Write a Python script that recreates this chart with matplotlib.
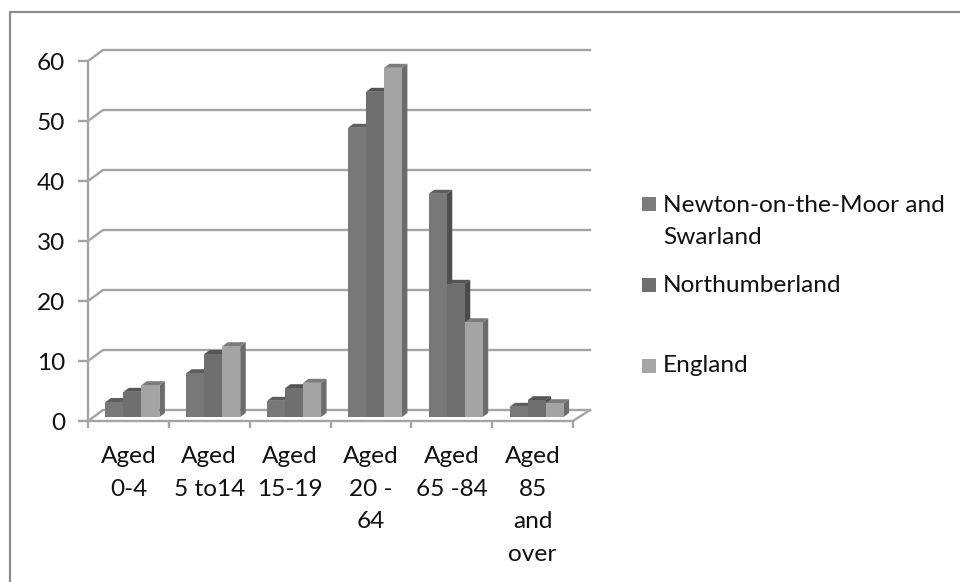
import matplotlib
matplotlib.use('Agg')
from matplotlib import pyplot as plt
from matplotlib.patches import Polygon, Rectangle
from matplotlib.lines import Line2D
from matplotlib.transforms import Affine2D

categories = ['Aged\n0-4', 'Aged\n5 to14', 'Aged\n15-19', 'Aged\n20 -\n64', 'Aged\n65 -84', 'Aged\n85\nand\nover']
newton = [2.5, 7.3, 2.7, 48.2, 37.2, 1.7]
northumberland = [4.2, 10.5, 4.8, 54.2, 22.2, 2.8]
england = [5.3, 11.8, 5.7, 58.2, 15.8, 2.3]
y_ticks = [0, 10, 20, 30, 40, 50, 60]

W, H = 960, 582
GRID = '#a4a4a4'
plt.rcParams['font.family'] = ['Lato', 'DejaVu Sans']
FS = 17.6

fig = plt.figure(figsize=(W / 100, H / 100), dpi=100, facecolor='white')
# everything outside the plot is placed in image pixels
px = Affine2D().scale(1 / W, -1 / H).translate(0, 1) + fig.transFigure

# outer frame, only top and left are visible in the reference
fig.add_artist(Line2D([10, 10, 960], [582, 12, 12], transform=px, color='#8c8c8c', lw=1.6))

ax = fig.add_axes([88 / W, 1 - 421 / H, 485 / W, 360 / H])
ax.set_xlim(0, 6)
ax.set_ylim(0, 60)
ax.patch.set_visible(False)

# pixel sizes turned into data units
ux = 6 / 485
uy = 60 / 360
wall_dx = 15 * ux
wall_dy = 11 * uy

# gridlines on the back wall, each with its diagonal to the front
for v in y_ticks:
    ax.plot([0, wall_dx, 6 + wall_dx + 2 * ux], [v, v + wall_dy, v + wall_dy],
            color=GRID, lw=1.7, clip_on=False, zorder=1, solid_joinstyle='miter')
ax.plot([6, 6 + wall_dx + 2 * ux], [0, wall_dy], color=GRID, lw=1.7, clip_on=False, zorder=1)

for s in ['top', 'right']:
    ax.spines[s].set_visible(False)
for s in ['left', 'bottom']:
    ax.spines[s].set_color(GRID)
    ax.spines[s].set_linewidth(1.7)

ax.set_yticks(y_ticks)
ax.set_xticks(range(7))
ax.set_xticklabels([])
ax.set_xticks([i + 0.5 for i in range(6)], categories, minor=True)
ax.tick_params(axis='y', length=7, width=1.7, color=GRID, labelsize=FS, pad=9.5, labelcolor='#111111')
ax.tick_params(axis='x', which='major', length=5, width=1.7, color=GRID)
ax.tick_params(axis='x', which='minor', length=0, labelsize=FS, pad=18, labelcolor='#111111')
for t in ax.get_xticklabels(minor=True):
    t.set_linespacing(1.68)

# bars
bar_w = 18 * ux
base = 4 * uy
shift = 4 * ux
dep_x = 5.5 * ux
dep_y = 4 * uy
series = [
    (newton, '#787878', '#5e5e5e', '#4e4e4e'),
    (northumberland, '#6f6f6f', '#555555', '#4a4a4a'),
    (england, '#a4a4a4', '#7c7c7c', '#6c6c6c'),
]
z = 3
for i in range(len(categories)):
    for j, (vals, front, top, side) in enumerate(series):
        x0 = i + 0.5 + shift + (j - 1.5) * bar_w
        x1 = x0 + bar_w
        v = vals[i]
        y1 = base + v
        ax.add_patch(Polygon([(x0, y1), (x1, y1), (x1 + dep_x, y1 + dep_y), (x0 + dep_x, y1 + dep_y)],
                             closed=True, fc=top, ec='none', clip_on=False, zorder=z))
        ax.add_patch(Polygon([(x1, base), (x1 + dep_x, base + dep_y), (x1 + dep_x, y1 + dep_y), (x1, y1)],
                             closed=True, fc=side, ec='none', clip_on=False, zorder=z))
        ax.bar(x0, v, width=bar_w, bottom=base, align='edge', color=front, clip_on=False, zorder=z + 1)
        z += 2

# legend, drawn by hand because its rows are unevenly spaced
legend_rows = [
    ('#7b7b7b', 204, ['Newton-on-the-Moor and', 'Swarland'], [206, 238]),
    ('#6f6f6f', 285, ['Northumberland'], [286]),
    ('#a6a6a6', 366, ['England'], [366]),
]
for color, yc, lines, ys in legend_rows:
    fig.add_artist(Rectangle((642, yc - 7), 14, 14, transform=px, fc=color, ec='none'))
    for line, y in zip(lines, ys):
        fig.text(663, y, line, transform=px, fontsize=FS, va='center', ha='left', color='#111111')

fig.savefig('out.png', dpi=100)
plt.close(fig)
